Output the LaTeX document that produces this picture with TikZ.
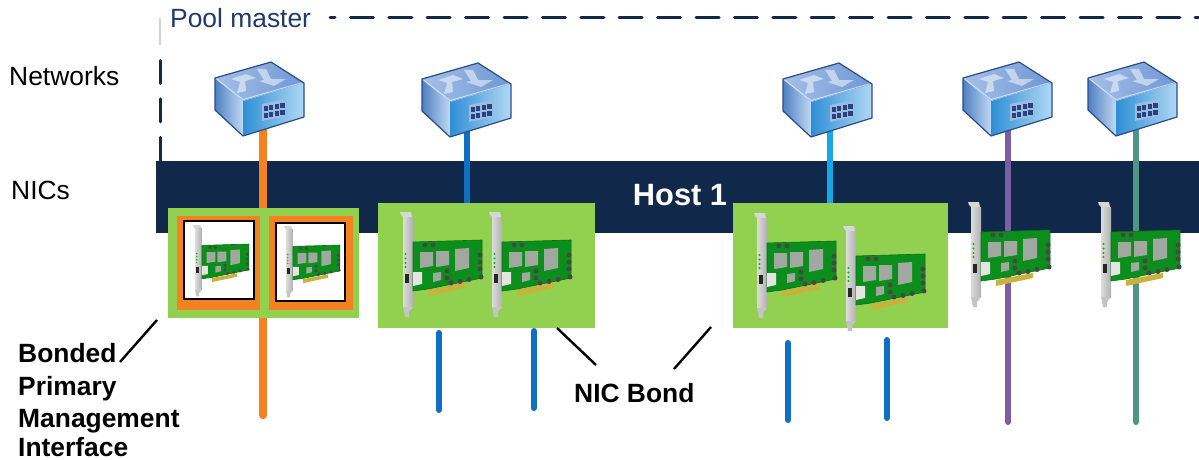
\documentclass[tikz,border=0pt]{standalone}
\usepackage{fontspec}
\setmainfont{Liberation Sans}
\definecolor{navy}{HTML}{10284A}
\definecolor{poolblue}{HTML}{1F3A6E}
\definecolor{boxgreen}{HTML}{92D050}
\definecolor{bondorange}{HTML}{F58220}
\definecolor{linkblue}{HTML}{0F6FC0}
\definecolor{skyblue}{HTML}{14A9E6}
\definecolor{linkpurple}{HTML}{7B5EA3}
\definecolor{linkteal}{HTML}{4F9585}
\definecolor{swedge}{HTML}{2A4C8C}
\definecolor{pcb}{HTML}{0C8E1C}
\definecolor{pcbdark}{HTML}{087014}
\definecolor{bracketgray}{HTML}{C4C4C4}
\definecolor{chipgray}{HTML}{A0A8A0}
\definecolor{goldpin}{HTML}{C9B23C}
\definecolor{lfa}{HTML}{4F80C2}
\definecolor{lfb}{HTML}{C0D8F2}
\definecolor{rfa}{HTML}{2E8FD4}
\definecolor{rfb}{HTML}{4F82CA}
\definecolor{rfc}{HTML}{B0D8F4}
\definecolor{tfa}{HTML}{A4C0E6}
\definecolor{tfb}{HTML}{6F97D4}
\tikzset{
 x=1pt,y=-1pt,
 hub/.style={line cap=round,line width=6pt},
 bondhub/.style={line cap=round,line width=8.5pt,bondorange},
 callout/.style={draw=black,line width=2.4pt},
 lab/.style={anchor=west,inner sep=0pt,font=\fontsize{26.4}{30}\selectfont,text=black},
 blab/.style={anchor=base west,inner sep=0pt,text=black,font=\fontsize{26.4}{30}\selectfont\bfseries},
 dashline/.style={navy,line width=3pt,line cap=round,dash pattern=on 23pt off 15.4pt},
 switchbox/.pic={
  \shade[left color=lfa,right color=lfb] (0,16)--(28,39)--(28,74)--(0,48)--cycle;
  \shade[left color=rfa,middle color=rfb,right color=rfc] (28,39)--(89,21)--(89,55)--(28,74)--cycle;
  \shade[left color=tfa,right color=tfb] (0,16)--(56,0)--(89,21)--(28,39)--cycle;
  \fill[white,opacity=.5] (22,31)--(31,29)--(30,19)--(41,16)--(31,12)--(16,17)--(25,20)--cycle;
  \fill[white,opacity=.5] (42,7)--(51,7)--(56,17)--(71,17)--(59,24)--(44,19)--(49,18)--cycle;
  \draw[white,opacity=.55,line width=1pt] (1.5,17)--(28,37.5)--(87.5,20.5);
  \draw[swedge,line width=1.2pt,line join=round] (0,16)--(56,0)--(89,21)--(89,55)--(28,74)--(0,48)--cycle;
  \fill[white!45!rfb] (47,42)--(71,37)--(71,54)--(47,59)--cycle;
  \foreach \i in {0,1,2,3}{\foreach \j in {0,1}{
   \fill[swedge!90!black] (48.5+5.6*\i,44-1.15*\i+7*\j) rectangle +(4.3,5);}}
 },
 niccard/.pic={
  \fill[bracketgray!70] (0,0)--(11,0)--(12,5)--(3,5)--(1,3)--cycle;
  \shade[left color=bracketgray!60,right color=bracketgray!90!black] (3,5) rectangle (13,95);
  \fill[bracketgray] (3,95)--(13,95)--(9,100)--(9,105)--(5,105)--cycle;
  \fill[pcb,draw=pcbdark,line width=.6pt,line join=round] (13,30)--(82,28)--(82,66)--(28,77)--(13,79)--cycle;
  \fill[goldpin] (28,78)--(65,71)--(65,76)--(28,84)--cycle;
  \fill[chipgray] (20,40)--(33,40)--(33,54)--(20,56)--cycle;
  \fill[chipgray] (36,39)--(49,39)--(49,53)--(36,55)--cycle;
  \fill[chipgray] (55,37)--(69,36)--(69,56)--(55,59)--cycle;
  \fill[white!70!chipgray] (13,60)--(22,60)--(22,72)--(13,74)--cycle;
  \fill[chipgray] (33,61)--(41,60)--(41,68)--(33,70)--cycle;
  \fill[black!85] (4.5,62) rectangle (9,71);
  \foreach \p in {(25,33),(33,33),(47,59),(47,66),(51,71),(60,69.5),(69,67.5),(80,43),(80,50),(80,57),(81,65)}
   \fill[black!72] \p circle (2.5);
  \foreach \q in {42,46.5,51,55} \fill[green!75!black] (5.5,\q) circle (1.2);
 }
}
\begin{document}
\begin{tikzpicture}
\useasboundingbox (0,0) rectangle (1199,460);
\fill[white] (0,0) rectangle (1199,460);
% dashed pool master outline
\coordinate (dashstart) at (330,18); \coordinate (dashend) at (1199,18);
\coordinate (vstart) at (160,60.5); \coordinate (vend) at (160,161);
\coordinate (fragtop) at (160,18); \coordinate (fragend) at (160,45);
\draw[dashline,dash phase=18pt] (dashstart)--(dashend);
\draw[dashline] (vstart)--(vend);
\draw[black!18,line width=1.2pt] (fragtop)--(fragend);
% labels
\node[lab,text=poolblue] (pool) at (170,18) {Pool master};
\node[lab] (networks) at (9,76) {Networks};
\node[lab] (nics) at (11,190) {NICs};
% host band
\fill[navy] (156,161) rectangle (1199,233);
\node[inner sep=0pt,text=white,font=\fontsize{30.8}{34}\selectfont\bfseries] (host) at (680,195) {Host 1};
% end points of the links
\coordinate (o1) at (263,415);
\coordinate (b1) at (467,206);
\coordinate (c1) at (830,206);
\coordinate (p1) at (1008,422);
\coordinate (t1) at (1136,422);
\coordinate (s2t) at (467,130); \coordinate (s1t) at (263,125);
\coordinate (s3t) at (830,130); \coordinate (s4t) at (1008,125); \coordinate (s5t) at (1136,125);
\draw[bondhub] (s1t)--(o1);
\draw[hub,linkblue] (s2t)--(b1);
\draw[hub,skyblue] (s3t)--(c1);
\draw[hub,linkpurple] (s4t)--(p1);
\draw[hub,linkteal] (s5t)--(t1);
% short stubs
\coordinate (u1) at (439,333); \coordinate (u2) at (439,410);
\coordinate (u3) at (534,331); \coordinate (u4) at (534,408);
\coordinate (u5) at (788,343); \coordinate (u6) at (788,420);
\coordinate (u7) at (887,340); \coordinate (u8) at (887,418);
\draw[hub,linkblue] (u1)--(u2) (u3)--(u4) (u5)--(u6) (u7)--(u8);
% green boxes
\fill[boxgreen] (168,208) rectangle (359,318);
\fill[boxgreen] (378,203) rectangle (595,328);
\fill[boxgreen] (733,203) rectangle (948,328);
% bonded cards
\fill[bondorange] (177,216) rectangle (260,310);
\fill[bondorange] (269,216) rectangle (353,310);
\draw[black,line width=1.6pt,fill=white] (184,221) rectangle (254,299);
\draw[black,line width=1.6pt,fill=white] (276,223) rectangle (345,301);
\pic[scale=.68] (n1) at (193,225) {niccard};
\pic[scale=.68] (n2) at (284,226) {niccard};
\pic (n3) at (400,212) {niccard};
\pic (n4) at (489,212) {niccard};
\pic (n5) at (754,213) {niccard};
\pic (n6) at (843,226) {niccard};
\pic (n7) at (968,202) {niccard};
\pic (n8) at (1098,202) {niccard};
% switches
\pic (sw1) at (215,62) {switchbox};
\pic (sw2) at (422,63) {switchbox};
\pic (sw3) at (783,63) {switchbox};
\pic (sw4) at (963,62) {switchbox};
\pic (sw5) at (1088,62) {switchbox};
% bottom labels
\node[blab] (bonded) at (18,362) {Bonded};
\node[blab] (primary) at (18,395) {Primary};
\node[blab] (mgmt) at (18,427) {Management};
\node[blab] (iface) at (18,456.5) {Interface};
\node[lab,font=\fontsize{26.4}{30}\selectfont\bfseries] (bond) at (574,393) {NIC Bond};
\coordinate (c1a) at (120,362); \coordinate (c1b) at (157,320);
\coordinate (c2a) at (596,365); \coordinate (c2b) at (557,328);
\coordinate (c3a) at (674,369); \coordinate (c3b) at (711,327);
\draw[callout] (c1a)--(c1b);
\draw[callout] (c2a)--(c2b);
\draw[callout] (c3a)--(c3b);
\end{tikzpicture}
\end{document}
